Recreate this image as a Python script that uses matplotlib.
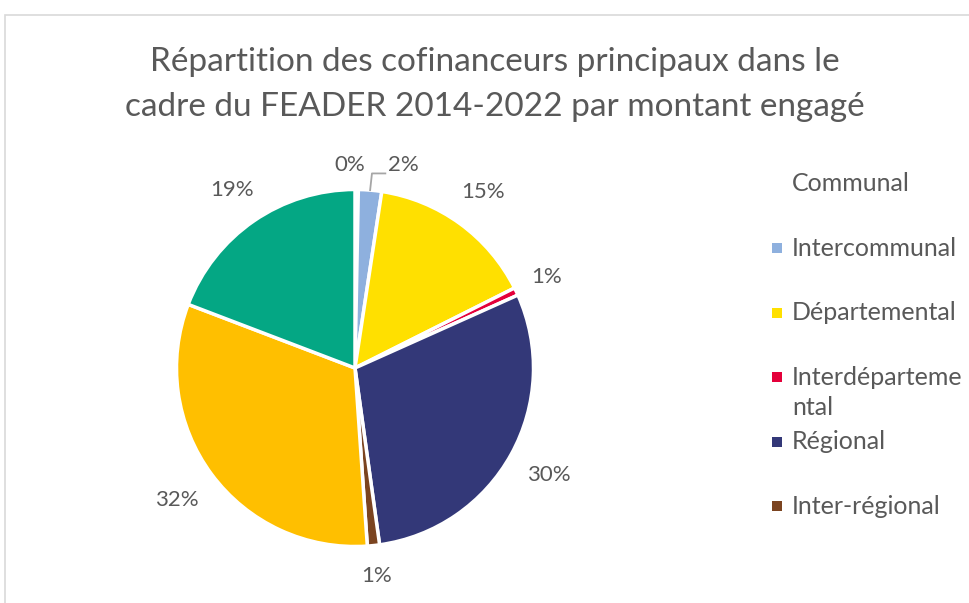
import matplotlib
matplotlib.use("Agg")
import matplotlib.pyplot as plt
from matplotlib.patches import Rectangle
import numpy as np

# ---- data ----
categories = ["Communal", "Intercommunal", "Départemental", "Interdépartemental",
              "Régional", "Inter-régional", "État", "Autres"]
values = [0.3, 2.1, 15.2, 0.7, 29.5, 1.1, 31.9, 19.2]
pct_labels = ["0%", "2%", "15%", "1%", "30%", "1%", "32%", "19%"]
legend_labels = ["Communal", "Intercommunal", "Départemental", "Interdéparteme\nntal",
                 "Régional", "Inter-régional"]

# ---- style ----
colors = ["#FFFFFF", "#8EB0DE", "#FFE000", "#E4003A", "#333878", "#7B4420", "#FFBF00", "#04A784"]
txt_color = "#595959"
font = "Lato"

W, H = 970, 603
fig = plt.figure(figsize=(W / 100, H / 100), dpi=100)

# chart border (partially visible)
fig.patches.append(Rectangle((5 / W, -0.1), 1.2, (H - 15) / H + 0.1, transform=fig.transFigure,
                             fill=False, edgecolor="#D9D9D9", linewidth=1.2))

cx, cy, R = 355, 368, 178.5
lim = 1.3
half = R * lim
ax = fig.add_axes([(cx - half) / W, (H - cy - half) / H, 2 * half / W, 2 * half / H])
wedges, _ = ax.pie(values, colors=colors, startangle=90, counterclock=False,
                   wedgeprops=dict(edgecolor="white", linewidth=2.5))
ax.set_xlim(-lim, lim)
ax.set_ylim(-lim, lim)
ax.set_aspect("equal")
ax.axis("off")

# percentage labels outside end
label_r = [None, None, 1.22, 1.19, 1.24, 1.17, 1.24, 1.21]
for i, w in enumerate(wedges):
    mid = np.deg2rad((w.theta1 + w.theta2) / 2)
    if label_r[i] is None:
        continue
    ax.text(label_r[i] * np.cos(mid), label_r[i] * np.sin(mid), pct_labels[i],
            ha="center", va="center", fontsize=16, color=txt_color, family=font)

# moved labels for the small top slices
ax.text(-0.03, 1.135, pct_labels[0], ha="center", va="center", fontsize=16,
        color=txt_color, family=font)
m1 = np.deg2rad((wedges[1].theta1 + wedges[1].theta2) / 2)
ax.text(0.27, 1.135, pct_labels[1], ha="center", va="center", fontsize=16,
        color=txt_color, family=font)
ax.plot([np.cos(m1) * 1.0, 0.095, 0.17], [np.sin(m1) * 1.0, 1.09, 1.09],
        color="#A6A6A6", linewidth=1.3, clip_on=False)

# title
fig.text(495 / W, 1 - 62 / H, "Répartition des cofinanceurs principaux dans le",
         ha="center", va="center", fontsize=24, color=txt_color, family=font)
fig.text(495 / W, 1 - 107 / H, "cadre du FEADER 2014-2022 par montant engagé",
         ha="center", va="center", fontsize=24, color=txt_color, family=font)

# legend (truncated, first six entries)
y0, step, wrap = 184, 64.4, 30
for i, lab in enumerate(legend_labels):
    y = y0 + i * step
    fig.patches.append(Rectangle((772 / W, 1 - (y + 5) / H), 10 / W, 10 / H,
                                 transform=fig.transFigure, facecolor=colors[i],
                                 edgecolor="none"))
    for j, line in enumerate(lab.split("\n")):
        fig.text(792 / W, 1 - (y + j * wrap) / H, line, ha="left", va="center",
                 fontsize=18, color=txt_color, family=font)

fig.savefig("out.png", dpi=100, facecolor="white")
